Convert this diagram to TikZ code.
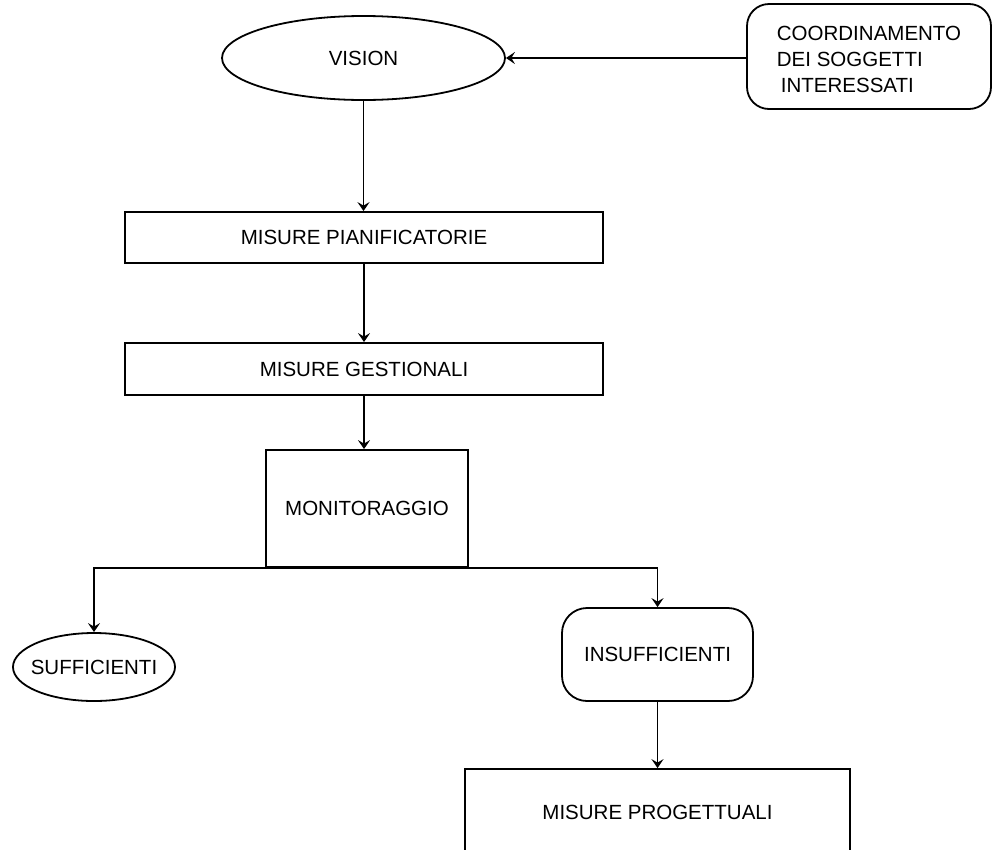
\documentclass[tikz,border=0pt]{standalone}
\usepackage{fontspec}
\setmainfont{Liberation Sans}
\usetikzlibrary{arrows.meta,shapes.geometric}

\tikzset{
  every node/.style={font=\fontsize{20.5}{26}\selectfont, inner sep=0pt},
  boxnode/.style={draw, line width=1.8pt, rectangle},
  roundnode/.style={draw, line width=1.8pt, rectangle, rounded corners=22pt},
  ovalnode/.style={draw, line width=1.8pt, ellipse},
  conn/.style={line width=1.8pt, -{Stealth[length=9pt,width=12pt,inset=3.5pt]}},
}

\begin{document}
\begin{tikzpicture}[x=1pt,y=-1pt]
  \useasboundingbox (0,0) rectangle (992,849);
  \clip (0,0) rectangle (992,849);
  \fill[white] (0,0) rectangle (992,849);

  % main chain
  \node[ovalnode, minimum width=283pt, minimum height=84pt] (vision) at (363.5,58) {};
  \node (visiontxt) at (vision.center) {VISION};
  \node[roundnode, minimum width=244pt, minimum height=105pt] (coord) at (869,56.5) {};
  \node[align=left] (coordtxt) at (869,59) {COORDINAMENTO\\DEI SOGGETTI\\\hspace*{4pt}INTERESSATI};
  \node[boxnode, minimum width=478pt, minimum height=51pt] (pian) at (364,237.5) {MISURE PIANIFICATORIE};
  \node[boxnode, minimum width=478pt, minimum height=52pt] (gest) at (364,369) {MISURE GESTIONALI};
  \node[boxnode, minimum width=202pt, minimum height=117pt] (mon) at (367,508.5) {MONITORAGGIO};

  % outcomes
  \node[ovalnode, minimum width=162pt, minimum height=68pt] (suff) at (94,667) {};
  \node (sufftxt) at (suff.center) {SUFFICIENTI};
  \node[roundnode, minimum width=191pt, minimum height=93pt, rounded corners=25pt] (insuff) at (657.5,654.5) {INSUFFICIENTI};
  \node[boxnode, minimum width=385pt, minimum height=86pt] (prog) at (657.5,812) {MISURE PROGETTUALI};

  % connectors
  \draw[conn] (coord.west |- vision.east) -- (vision.east);
  \draw[conn] (vision.south) -- (vision.south |- pian.north);
  \draw[conn] (pian.south) -- (gest.north);
  \draw[conn] (gest.south) -- (gest.south |- mon.north);
  \draw[conn] (mon.south) -| (suff.north);
  \draw[conn] (mon.south) -| (insuff.north);
  \draw[conn] (insuff.south) -- (insuff.south |- prog.north);
\end{tikzpicture}
\end{document}
